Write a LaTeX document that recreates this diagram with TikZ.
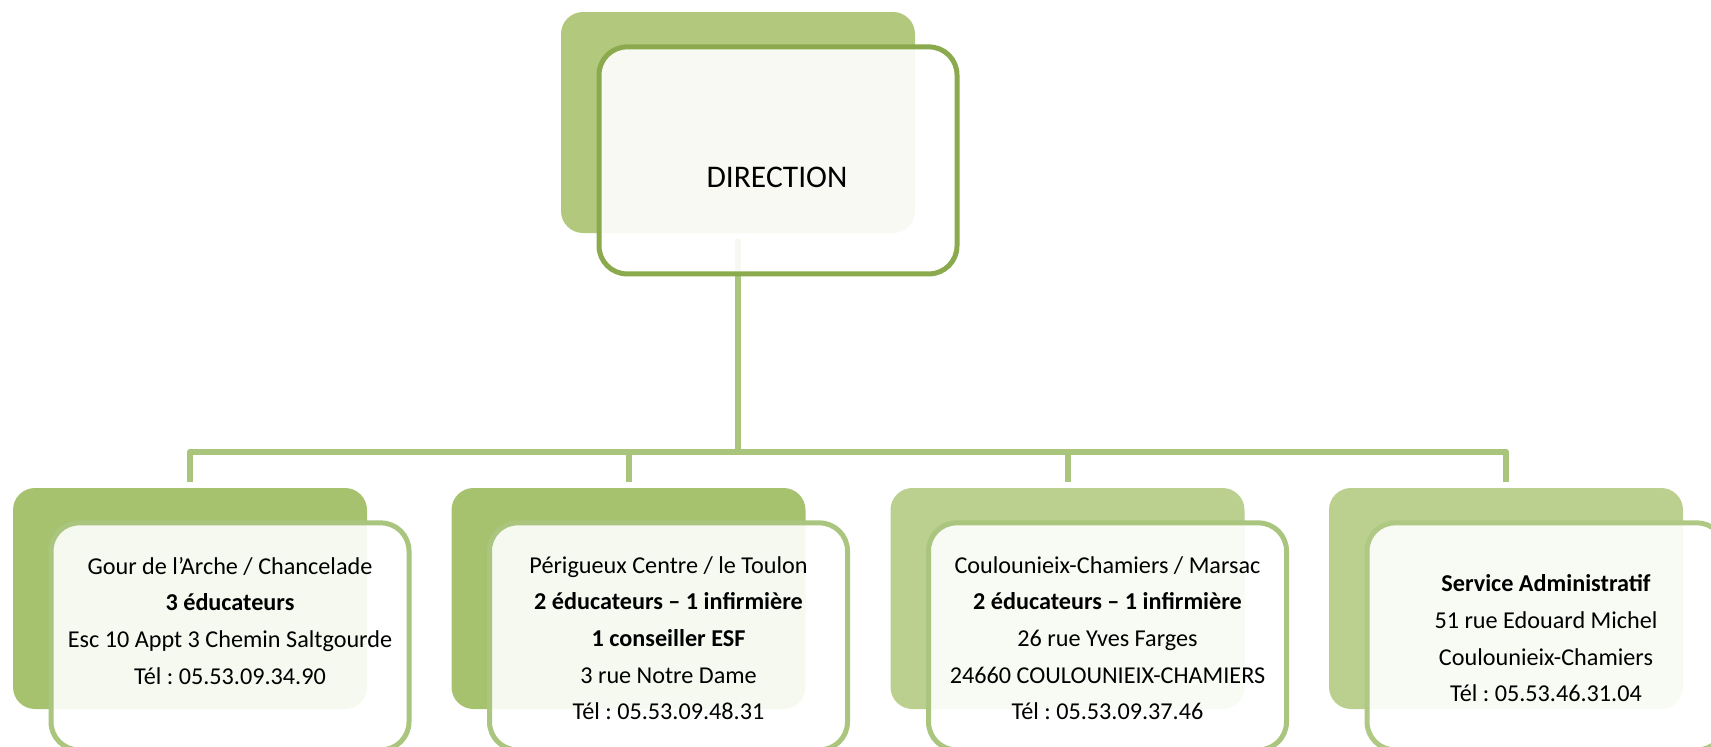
\documentclass[tikz,border=0pt]{standalone}
\usepackage{fontspec}
\setmainfont{Carlito}
\frenchspacing
\definecolor{dirback}{HTML}{B2C97D}
\definecolor{dirborder}{HTML}{8BAA4E}
\definecolor{backA}{HTML}{A7C26F}
\definecolor{backB}{HTML}{BBCF8F}
\definecolor{frontborder}{HTML}{A9C57E}
\definecolor{frontborderB}{HTML}{AFC985}
\definecolor{linkc}{HTML}{A9C47B}
\begin{document}
\begin{tikzpicture}[x=1pt,y=-1pt,
  backbox/.style={rectangle, rounded corners=22pt, minimum width=354pt, minimum height=221pt, inner sep=0pt, draw=none},
  frontbox/.style={rectangle, rounded corners=28pt, minimum width=358pt, minimum height=227pt, inner sep=0pt, line width=5pt, fill=white, fill opacity=0.9},
  boxtext/.style={anchor=north, inner sep=0pt, align=center, font=\fontsize{24.2}{36.7}\selectfont\frenchspacing, text=black},
  link/.style={draw=linkc, line width=6pt, line join=round}
]
\useasboundingbox (0,0) rectangle (1711,747);
\fill[white] (0,0) rectangle (1711,747);
\clip (0,0) rectangle (1711,747);

% direction back box
\node[backbox, fill=dirback] (dirb) at (738,122.5) {};

% bottom back boxes
\node[backbox, fill=backA] (b1) at (190,598.5) {};
\node[backbox, fill=backA] (b2) at (628.5,598.5) {};
\node[backbox, fill=backB] (b3) at (1067.5,598.5) {};
\node[backbox, fill=backB] (b4) at (1506,598.5) {};

% connectors
\coordinate (bus) at (738,451.7);
\draw[link] ([yshift=-6pt]dirb.south) -- (bus);
\draw[link] ([yshift=6pt]b1.north) |- (bus) -| ([yshift=6pt]b4.north);
\draw[link] (bus -| b2.north) -- ([yshift=6pt]b2.north);
\draw[link] (bus -| b3.north) -- ([yshift=6pt]b3.north);

% front boxes
\node[frontbox, draw=dirborder] (dirf) at (778,160.4) {};
\node[frontbox, draw=frontborder] (f1) at (230,636.4) {};
\node[frontbox, draw=frontborder] (f2) at (668.5,636.4) {};
\node[frontbox, draw=frontborder] (f3) at (1107.5,636.4) {};
\node[frontbox, draw=frontborderB] (f4) at (1546,636.4) {};

% texts
\node[anchor=base, inner sep=0pt, font=\fontsize{31.5}{38}\selectfont] (tdir) at (777,187.3) {DIRECTION};

\node[boxtext] (t1) at (230,548.3) {\strut Gour de l’Arche / Chancelade\\
\strut\textbf{3 éducateurs}\\
\strut Esc 10 Appt 3 Chemin Saltgourde\\
\strut Tél : 05.53.09.34.90};

\node[boxtext] (t2) at (668.5,547.3) {\strut Périgueux Centre / le Toulon\\
\strut\textbf{2 éducateurs – 1 infirmière}\\
\strut\textbf{1 conseiller ESF}\\
\strut 3 rue Notre Dame\\
\strut Tél : 05.53.09.48.31};

\node[boxtext] (t3) at (1107.5,547.3) {\strut Coulounieix-Chamiers / Marsac\\
\strut\textbf{2 éducateurs – 1 infirmière}\\
\strut 26 rue Yves Farges\\
\strut 24660 COULOUNIEIX-CHAMIERS\\
\strut Tél : 05.53.09.37.46};

\node[boxtext] (t4) at (1546,566.0) {\strut\textbf{Service Administratif}\\
\strut 51 rue Edouard Michel\\
\strut Coulounieix-Chamiers\\
\strut Tél : 05.53.46.31.04};
\end{tikzpicture}
\end{document}
